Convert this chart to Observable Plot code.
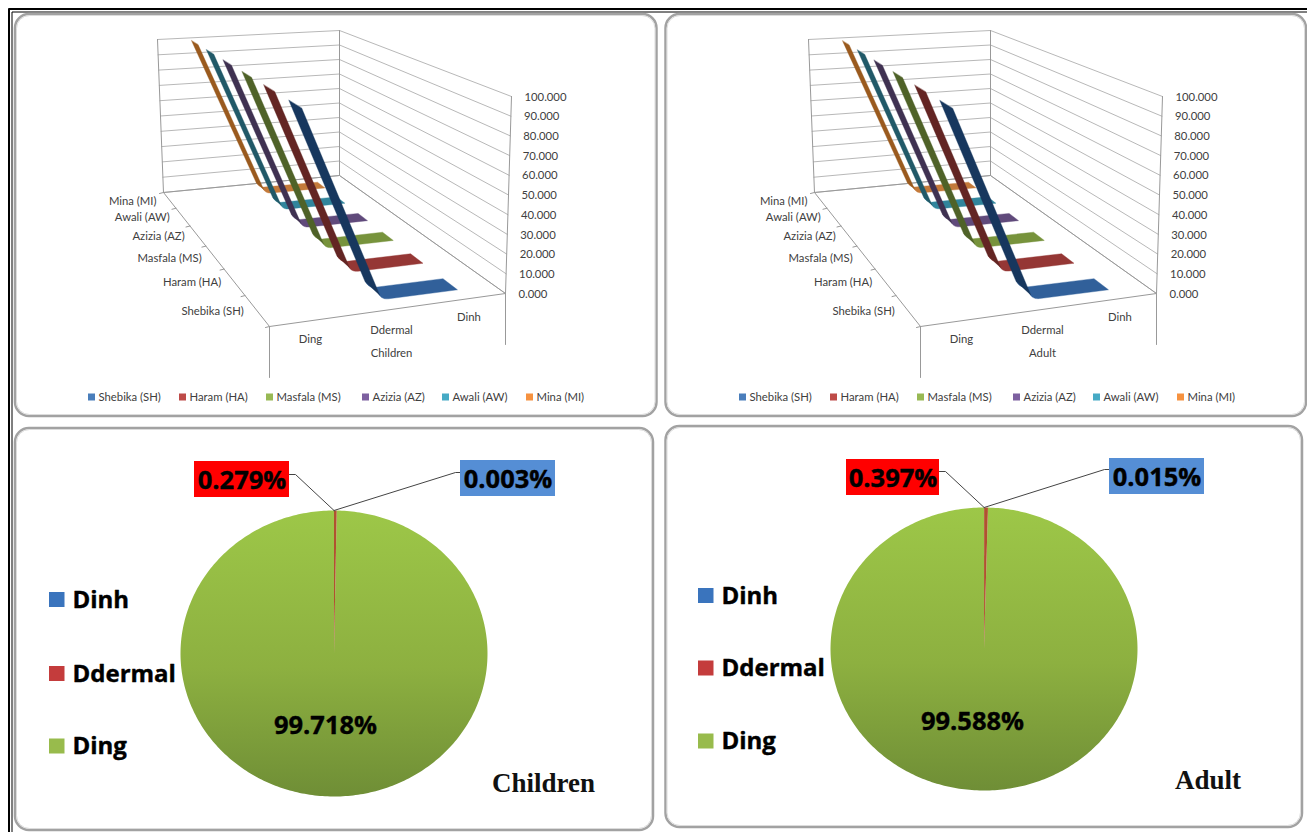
<!DOCTYPE html>
<html>
<head>
<meta charset="utf-8">
<script src="https://cdn.jsdelivr.net/npm/d3@7"></script>
<script src="https://cdn.jsdelivr.net/npm/@observablehq/plot@0.6"></script>
<style>
  html, body { margin: 0; padding: 0; background: #fff; overflow: hidden; }
  svg { display: block; }
</style>
</head>
<body>
<div id="chart"></div>
<script>
// Dermal, ingestion and inhalation exposure shares by site and age group
const sites = ["Shebika (SH)", "Haram (HA)", "Masfala (MS)", "Azizia (AZ)", "Awali (AW)", "Mina (MI)"];
const routes = ["Ding", "Ddermal", "Dinh"];
const childrenShares = [99.718, 0.279, 0.003];
const adultShares = [99.588, 0.397, 0.015];
const valueTicks = [0, 10, 20, 30, 40, 50, 60, 70, 80, 90, 100];
const pieRoutes = ["Dinh", "Ddermal", "Ding"];
const childrenPie = [0.003, 0.279, 99.718];
const adultPie = [0.015, 0.397, 99.588];

const legendColors = ["#4a7ebb", "#be4b48", "#98b954", "#7d60a0", "#46aac5", "#f69240"];
const flatColors = ["#31609a", "#953735", "#77933c", "#604a7b", "#31859c", "#c47a3a"];
const steepColors = ["#17375e", "#632523", "#4f6228", "#3f3151", "#215968", "#9a5a1e"];

// Box corners on screen, the lift of a full-height column at each corner, and perspective strength
const floor3d = {bl: [163, 192], br: [339, 175], fl: [269, 326], fr: [505, 293]};
const lift3d = {bl: [-6, 153], br: [0, 145], fl: [0, 210.7], fr: [6, 197]};
const depthPerspective = 1.5;
const routeDepth = [1 / 6, 0.515, 0.845];
const lerp = (a, b, t) => [a[0] + (b[0] - a[0]) * t, a[1] + (b[1] - a[1]) * t];
const warp = v => v / (v + depthPerspective * (1 - v));

function project(u, v, value, dx) {
  const w = warp(v);
  const f = lerp(lerp(floor3d.bl, floor3d.br, u), lerp(floor3d.fl, floor3d.fr, u), w);
  const l = lerp(lerp(lift3d.bl, lift3d.br, u), lerp(lift3d.fl, lift3d.fr, u), w);
  return {x: f[0] + dx + l[0] * value / 100, y: f[1] - l[1] * value / 100};
}

const line = (pts, o) => Plot.line(pts, {x: "x", y: "y", ...o});
const poly = (pts, fill) => Plot.line(pts, {x: "x", y: "y", fill, stroke: fill, strokeWidth: 0.4, curve: "linear-closed"});
const label = (t, x, y, o) => Plot.text([{x, y, t}], {x: "x", y: "y", text: "t", lineAnchor: "middle", ...o});
const box = (x1, y1, x2, y2, o) => Plot.rect([{x1, y1, x2, y2}], {x1: "x1", y1: "y1", x2: "x2", y2: "y2", ...o});

// A corner rounded on the screen between a steep run and a flat run of a ribbon edge
function bend(p0, p1, p2, from, to) {
  const a = {x: p1.x + (p0.x - p1.x) * 0.035, y: p1.y + (p0.y - p1.y) * 0.035};
  const b = {x: p1.x + (p2.x - p1.x) * 0.1, y: p1.y + (p2.y - p1.y) * 0.1};
  return d3.range(from, to + 0.01, 0.1).map(t => ({
    x: (1 - t) ** 2 * a.x + 2 * t * (1 - t) * p1.x + t * t * b.x,
    y: (1 - t) ** 2 * a.y + 2 * t * (1 - t) * p1.y + t * t * b.y
  }));
}

function ribbonChart(shares, caption, dx) {
  const marks = [];
  const gray = "#b8b8b8";

  // Walls and floor of the box
  for (const t of valueTicks) {
    marks.push(line([project(0, 0, t, dx), project(1, 0, t, dx), project(1, 1, t, dx)], {stroke: gray, strokeWidth: 1}));
  }
  for (const [u, v] of [[0, 0], [1, 0], [1, 1]]) {
    marks.push(line([project(u, v, 0, dx), project(u, v, 100, dx)], {stroke: "#999", strokeWidth: 1}));
  }
  marks.push(line([project(0, 0, 0, dx), project(0, 1, 0, dx), project(1, 1, 0, dx), project(1, 0, 0, dx), project(0, 0, 0, dx)], {stroke: "#999", strokeWidth: 1}));

  // Drop lines that bracket the category labels
  for (const u of [0, 1]) {
    const p = project(u, 1, 0, dx);
    marks.push(line([p, {x: p.x, y: p.y + 51}], {stroke: "#999", strokeWidth: 1}));
  }

  // Ticks along the site axis
  d3.range(0, 7).forEach(i => {
    const p = project(0, i / 6, 0, dx);
    marks.push(line([p, {x: p.x - 4, y: p.y + 1}], {stroke: "#999", strokeWidth: 1}));
  });

  // Ribbons from the back of the box to the front
  d3.range(5, -1, -1).forEach(i => {
    const slot = 5 - i;
    const edge = v => routes.map((_, c) => project(routeDepth[c], v, shares[c], dx));
    const [b0, b1, b2] = edge((slot + 0.3) / 6);
    const [f0, f1, f2] = edge((slot + 0.7) / 6);
    const [sb0, sb1, sb2] = edge((slot + 0.27) / 6);
    const [sf0, sf1, sf2] = edge((slot + 0.73) / 6);
    marks.push(poly([...bend(b0, b1, b2, 0, 1), b2, f2, ...bend(f0, f1, f2, 0, 1).reverse()], flatColors[i]));
    marks.push(poly([sb0, ...bend(sb0, sb1, sb2, 0, 0.1), ...bend(sf0, sf1, sf2, 0, 0.1).reverse(), sf0], steepColors[i]));
  });

  // Axis text
  const text = {fontFamily: "Lato", fontSize: 11.3, fill: "#404040"};
  for (const t of valueTicks) {
    const p = project(1, 1, t, dx);
    marks.push(label(d3.format(".3f")(t), p.x + 13, p.y + 0.5, {...text, textAnchor: "start"}));
  }
  sites.forEach((s, i) => {
    const p = project(0, (5 - i + 0.5) / 6, 0, dx);
    marks.push(label(s, p.x - 13, p.y + 1, {...text, textAnchor: "end"}));
  });
  const routeSpots = [[310, 339], [391, 329.5], [468.5, 317]];
  routes.forEach((r, i) => marks.push(label(r, routeSpots[i][0] + dx, routeSpots[i][1], text)));
  marks.push(label(caption, 391 + dx, 353, text));

  // Site legend
  const legendX = [88, 179, 266, 362, 442, 526];
  sites.forEach((s, i) => {
    marks.push(box(legendX[i] + dx, 393.5, legendX[i] + 7 + dx, 400.5, {fill: legendColors[i]}));
    marks.push(label(s, legendX[i] + 10 + dx, 397, {...text, textAnchor: "start"}));
  });
  return marks;
}

function pieChart(values, spot) {
  const marks = [];
  const {cx, cy, rx, ry} = spot;
  const point = (a, k = 1) => ({x: cx + rx * k * Math.sin(a), y: cy - ry * k * Math.cos(a)});
  const arcs = d3.pie().sort(null)(values);
  const fills = ["#4f81bd", "#b0522f", "url(#pieGreen)"];
  [2, 0, 1].forEach(i => {
    const {startAngle: a0, endAngle: a1} = arcs[i];
    const n = Math.max(2, Math.ceil((a1 - a0) * 60));
    const rim = d3.range(n + 1).map(j => point(a0 + (a1 - a0) * j / n));
    marks.push(Plot.line([{x: cx, y: cy}, ...rim], {x: "x", y: "y", fill: fills[i], stroke: "none", curve: "linear-closed"}));
  });

  // Value call-outs tied to the rim of the thin slices
  const apex = point(arcs[1].startAngle);
  const leader = {stroke: "#444", strokeWidth: 1};
  const pct = d3.format(".3f");
  const boldText = {fontFamily: "Open Sans", fontWeight: 700, fontSize: 25.5, fill: "#000", stroke: "#000", strokeWidth: 0.4};
  marks.push(line([{x: spot.redBox[2], y: spot.redY}, {x: spot.redBox[2] + 6, y: spot.redY}, apex], leader));
  marks.push(line([{x: spot.blueBox[0], y: spot.blueY}, {x: spot.blueBox[0] - 5, y: spot.blueY}, apex], leader));
  marks.push(box(...spot.redBox, {fill: "#ff0000"}));
  marks.push(box(...spot.blueBox, {fill: "#558ed5"}));
  marks.push(label(pct(values[1]) + "%", (spot.redBox[0] + spot.redBox[2]) / 2, (spot.redBox[1] + spot.redBox[3]) / 2 + 1, boldText));
  marks.push(label(pct(values[0]) + "%", (spot.blueBox[0] + spot.blueBox[2]) / 2, (spot.blueBox[1] + spot.blueBox[3]) / 2 + 1, boldText));
  marks.push(label(pct(values[2]) + "%", spot.mainX, spot.mainY, boldText));

  // Route legend
  const swatches = ["#3a74bd", "#c43c3c", "#98bb4c"];
  pieRoutes.forEach((r, i) => {
    marks.push(box(spot.legendX, spot.legendY[i] - 7.5, spot.legendX + 15.5, spot.legendY[i] + 7.5, {fill: swatches[i]}));
    marks.push(label(r, spot.legendX + 23, spot.legendY[i], {...boldText, fontSize: 24, textAnchor: "start"}));
  });
  marks.push(label(spot.title, spot.titleX, spot.titleY, {fontFamily: "Liberation Serif", fontWeight: 700, fontSize: 27, fill: "#111"}));
  return marks;
}

// Rounded chart panels: a gray rim with a paler inner edge
function panel(x1, y1, x2, y2) {
  return [
    box(x1, y1, x2, y2, {fill: "#fff", stroke: "#a2a2a2", strokeWidth: 2.5, rx: 14, ry: 14}),
    box(x1 + 1.5, y1 + 1.5, x2 - 1.5, y2 - 1.5, {fill: "none", stroke: "#dcdcdc", strokeWidth: 1, rx: 13, ry: 13})
  ];
}

const frames = [
  line([{x: 8.5, y: 832}, {x: 8.5, y: 8.5}, {x: 1307, y: 8.5}], {stroke: "#000", strokeWidth: 2}),
  line([{x: 11.5, y: 832}, {x: 11.5, y: 11.5}, {x: 1307, y: 11.5}], {stroke: "#000", strokeWidth: 1}),
  ...panel(15, 14, 656.5, 416),
  ...panel(665.5, 14, 1306, 416),
  ...panel(15, 428, 653, 830),
  ...panel(665.5, 426, 1302, 827)
];

const plot = Plot.plot({
  width: 1307,
  height: 832,
  margin: 0,
  x: {domain: [0, 1307], range: [0, 1307], axis: null},
  y: {domain: [0, 832], range: [0, 832], axis: null},
  style: {background: "#fff"},
  marks: [
    ...frames,
    ...ribbonChart(childrenShares, "Children", 0),
    ...ribbonChart(adultShares, "Adult", 651),
    ...pieChart(childrenPie, {
      cx: 333.5, cy: 653, rx: 153.5, ry: 143,
      redBox: [194, 461, 289, 497], redY: 474,
      blueBox: [460, 460, 555, 496], blueY: 472,
      mainX: 325, mainY: 725,
      legendX: 49, legendY: [599.5, 673.5, 746],
      title: "Children", titleX: 543, titleY: 783
    }),
    ...pieChart(adultPie, {
      cx: 983.5, cy: 648.5, rx: 153.5, ry: 141.5,
      redBox: [846, 459, 939, 495], redY: 471,
      blueBox: [1109, 458, 1204, 494], blueY: 469,
      mainX: 972, mainY: 721,
      legendX: 698, legendY: [595.5, 668, 741],
      title: "Adult", titleX: 1207.5, titleY: 780
    })
  ]
});

// Vertical shading of the large pie slices
const defs = d3.select(plot).insert("defs", ":first-child");
const gradient = defs.append("linearGradient").attr("id", "pieGreen").attr("x1", 0).attr("y1", 0).attr("x2", 0).attr("y2", 1);
gradient.append("stop").attr("offset", "0%").attr("stop-color", "#9dc748");
gradient.append("stop").attr("offset", "55%").attr("stop-color", "#8db040");
gradient.append("stop").attr("offset", "100%").attr("stop-color", "#6f8e36");

document.getElementById("chart").append(plot);
</script>
</body>
</html>
